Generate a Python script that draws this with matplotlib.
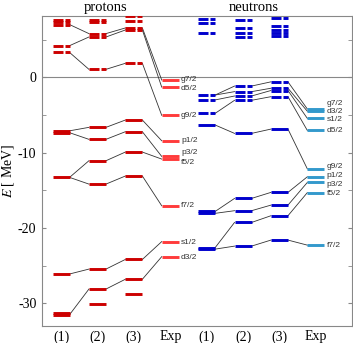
import matplotlib
matplotlib.use('Agg')
import matplotlib.pyplot as plt
from matplotlib.ticker import FixedLocator

plt.rcParams['font.family'] = ['Liberation Serif', 'DejaVu Serif']
plt.rcParams['mathtext.fontset'] = 'stix'
plt.rcParams['axes.unicode_minus'] = False

# 能级数据 (MeV)，列: (1) (2) (3) Exp
prot_1 = [7.6, 7.3, 7.0, 4.2, 3.3, -7.1, -7.35, -13.28, -26.1, -31.3, -31.5]
prot_2 = [7.65, 7.35, 5.8, 5.35, 1.06, -6.64, -8.23, -11.07, -14.17, -25.45, -28.1, -30.1]
prot_3 = [8.15, 7.44, 6.55, 6.28, 1.86, -5.67, -7.22, -9.92, -13.1, -24.17, -26.8, -28.8]
prot_exp = [-0.36, -1.3, -5.05, -8.42, -10.5, -10.85, -17.05, -21.8, -23.8]
prot_lab = ['g7/2', 'd5/2', 'g9/2', 'p1/2', 'p3/2', 'f5/2', 'f7/2', 's1/2', 'd3/2']
prot_lab_y = [-0.3, -1.5, -5.1, -8.42, -10.0, -11.3, -17.05, -21.9, -23.9]
# 连线 (索引对)
prot_link_12 = [(2, 2), (3, 3), (4, 4), (5, 5), (6, 6), (7, 7), (7, 8), (8, 9), (10, 10)]
prot_link_23 = [(2, 2), (3, 3), (4, 4), (5, 5), (6, 6), (7, 7), (8, 8), (9, 9), (10, 10)]
prot_link_3e = [(2, 0), (3, 1), (4, 2), (5, 3), (6, 4), (7, 5), (8, 6), (9, 7), (10, 8)]

neut_1 = [7.7, 7.17, 5.84, -2.35, -3.0, -4.78, -6.33, -17.8, -18.05, -22.6, -22.8]
neut_2 = [7.6, 6.55, 5.85, 5.3, -1.16, -1.9, -2.48, -3.05, -7.44, -16.07, -17.7, -19.26, -22.4]
neut_3 = [7.9, 6.8, 6.3, 5.9, 5.5, -0.6, -1.45, -1.75, -2.57, -6.87, -15.27, -16.96, -18.37, -21.6]
neut_exp = [-4.2, -4.5, -5.45, -7.05, -12.15, -13.2, -13.95, -15.3, -22.27]
neut_lab = ['g7/2', 'd3/2', 's1/2', 'd5/2', 'g9/2', 'p1/2', 'p3/2', 'f5/2', 'f7/2']
neut_lab_y = [-3.45, -4.55, -5.65, -7.06, -11.9, -13.05, -14.2, -15.43, -22.27]
neut_link_12 = [(3, 4), (3, 5), (4, 6), (5, 7), (6, 8), (7, 9), (8, 10), (9, 11), (10, 12)]
neut_link_23 = [(4, 5), (5, 6), (6, 7), (7, 8), (8, 9), (9, 10), (10, 11), (11, 12), (12, 13)]
neut_link_3e = [(5, 0), (6, 1), (7, 2), (8, 3), (9, 4), (10, 5), (11, 6), (12, 7), (13, 8)]

col_labels = ['(1)', '(2)', '(3)', 'Exp', '(1)', '(2)', '(3)', 'Exp']

HW = 0.234  # 能级半宽


def draw_levels(ax, x, levels, color, dash_above=None):
    for e in levels:
        if dash_above is not None and e > dash_above:
            ax.plot([x - HW, x + 0.04], [e, e], color=color, lw=2.1,
                    solid_capstyle='butt', zorder=3)
            ax.plot([x + 0.10, x + HW], [e, e], color=color, lw=2.1,
                    solid_capstyle='butt', zorder=3)
        else:
            ax.plot([x - HW, x + HW], [e, e], color=color, lw=2.1,
                    solid_capstyle='butt', zorder=3)


def draw_links(ax, x1, a, x2, b, links):
    for i, j in links:
        ax.plot([x1 + HW, x2 - HW], [a[i], b[j]], color='#333333', lw=0.6, zorder=2)


fig = plt.figure(figsize=(3.53, 3.43), dpi=100)
ax = fig.add_axes([0.119, 0.0496, 0.8768, 0.9038])

# 质子
draw_levels(ax, 1, prot_1, '#cc0000', 0)
draw_levels(ax, 2, prot_2, '#cc0000', 0)
draw_levels(ax, 3, prot_3, '#cc0000', 0)
draw_levels(ax, 4, prot_exp, '#ff3b3b')
draw_links(ax, 1, prot_1, 2, prot_2, prot_link_12)
draw_links(ax, 2, prot_2, 3, prot_3, prot_link_23)
draw_links(ax, 3, prot_3, 4, prot_exp, prot_link_3e)
for lab, y in zip(prot_lab, prot_lab_y):
    ax.text(4.295, y, lab, fontsize=6, family='Liberation Sans', color='#333333',
            va='center', ha='left')

# 中子
draw_levels(ax, 5, neut_1, '#0000cc', -5.5)
draw_levels(ax, 6, neut_2, '#0000cc', -5.5)
draw_levels(ax, 7, neut_3, '#0000cc', -5.5)
draw_levels(ax, 8, neut_exp, '#3399cc')
draw_links(ax, 5, neut_1, 6, neut_2, neut_link_12)
draw_links(ax, 6, neut_2, 7, neut_3, neut_link_23)
draw_links(ax, 7, neut_3, 8, neut_exp, neut_link_3e)
for lab, y in zip(neut_lab, neut_lab_y):
    ax.text(8.295, y, lab, fontsize=6, family='Liberation Sans', color='#333333',
            va='center', ha='left')

ax.axhline(0, color='#888888', lw=0.8, zorder=1)

ax.set_xlim(0.477, 8.98)
ax.set_ylim(-33.0, 8.14)
ax.set_xticks(range(1, 9))
ax.set_xticklabels(col_labels, fontsize=10)
ax.tick_params(axis='x', length=0, pad=3)
ax.yaxis.set_major_locator(FixedLocator([0, -10, -20, -30]))
ax.yaxis.set_minor_locator(FixedLocator([5, -5, -15, -25]))
ax.tick_params(axis='y', which='both', direction='in', length=2.6, color='#888888',
               right=True, labelsize=10, pad=4)
for s in ax.spines.values():
    s.set_color('#888888')
    s.set_linewidth(0.8)

ax.set_ylabel('$E$ [ MeV]', fontsize=10)
ax.yaxis.set_label_coords(-0.083, 0.5)

tr = ax.get_xaxis_transform()
ax.text(2.21, 1.017, 'protons', transform=tr, ha='center', va='baseline', fontsize=10.5)
ax.text(6.28, 1.017, 'neutrons', transform=tr, ha='center', va='baseline', fontsize=10.5)

plt.savefig('out.png', dpi=100)
plt.close()
